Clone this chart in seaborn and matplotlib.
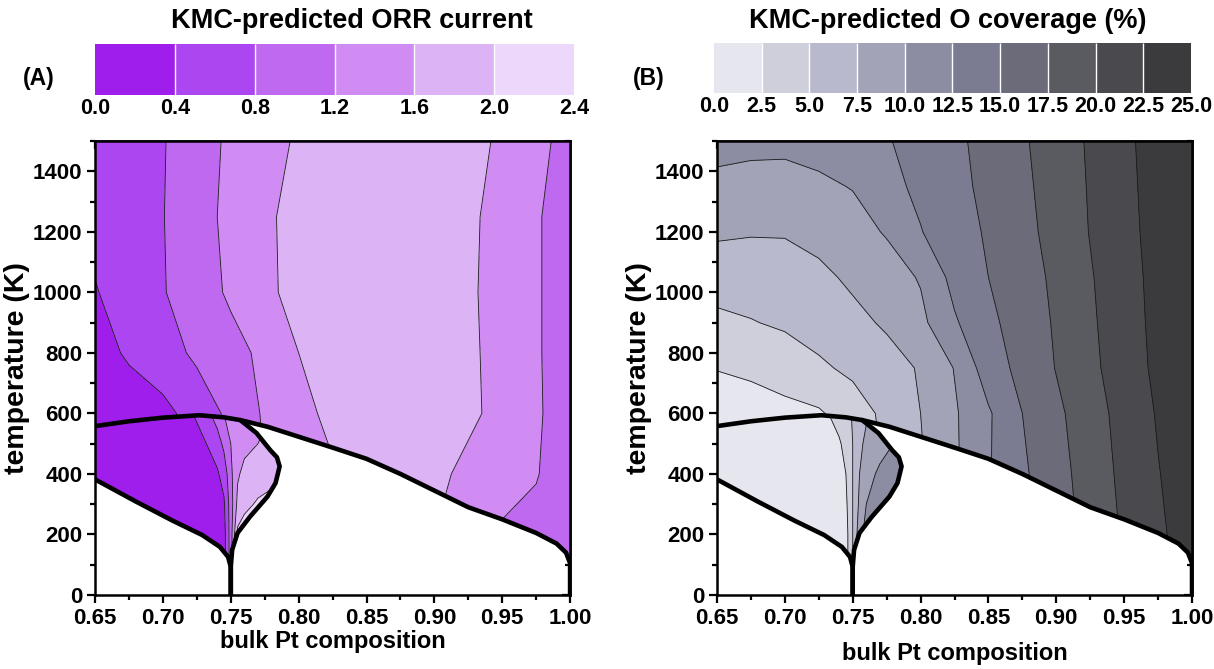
import matplotlib
matplotlib.use("Agg")
import matplotlib.pyplot as plt
from matplotlib.colors import ListedColormap, BoundaryNorm
from matplotlib.patches import Polygon
from matplotlib.ticker import MultipleLocator
import seaborn as sns

# grid of the KMC maps (bulk Pt composition / temperature in K)
comp = [0.65, 0.675, 0.70, 0.725, 0.75, 0.775, 0.80, 0.825, 0.85, 0.875, 0.90, 0.925, 0.95, 0.975, 1.00]
orr_temps = [0, 200, 400, 600, 800, 1000, 1250, 1500]
cov_temps = [0, 200, 400, 600, 750, 900, 1050, 1200, 1350, 1500]

# ORR current above the order-disorder line (rows follow orr_temps)
orr_outer = [
    [0.15, 0.20, 0.30, 0.55, 0.85, 1.20, 1.40, 1.55, 1.75, 1.85, 1.60, 1.40, 1.15, 1.10, 0.95],
    [0.15, 0.20, 0.30, 0.55, 0.85, 1.20, 1.40, 1.55, 1.75, 1.85, 1.60, 1.40, 1.15, 1.10, 0.95],
    [0.15, 0.20, 0.30, 0.55, 0.85, 1.20, 1.40, 1.55, 1.75, 1.85, 1.70, 1.50, 1.35, 1.22, 1.00],
    [0.15, 0.20, 0.30, 0.55, 0.90, 1.25, 1.45, 1.72, 1.88, 1.90, 1.85, 1.68, 1.48, 1.25, 1.00],
    [0.25, 0.45, 0.62, 0.88, 1.05, 1.30, 1.60, 1.82, 1.88, 1.88, 1.85, 1.68, 1.45, 1.24, 1.00],
    [0.38, 0.55, 0.78, 0.98, 1.27, 1.50, 1.75, 1.85, 1.88, 1.88, 1.85, 1.66, 1.45, 1.24, 1.00],
    [0.50, 0.62, 0.79, 1.02, 1.32, 1.52, 1.75, 1.85, 1.85, 1.85, 1.85, 1.68, 1.45, 1.24, 1.00],
    [0.55, 0.65, 0.78, 1.00, 1.28, 1.45, 1.65, 1.80, 1.85, 1.85, 1.82, 1.70, 1.55, 1.32, 1.05],
]

# O coverage (%) above the order-disorder line (rows follow cov_temps)
cov_outer = [
    [0.5, 0.8, 1.2, 1.8, 3.5, 5.2, 7.2, 9.6, 12.3, 14.6, 16.3, 18.3, 20.3, 22.1, 23.6],
    [0.5, 0.8, 1.2, 1.8, 3.5, 5.2, 7.2, 9.6, 12.3, 14.6, 16.3, 18.3, 20.3, 22.1, 23.6],
    [0.5, 0.8, 1.2, 1.8, 3.5, 5.2, 7.2, 9.6, 12.3, 14.6, 16.6, 18.6, 20.6, 22.4, 23.8],
    [1.0, 1.3, 1.7, 2.2, 3.8, 5.6, 7.5, 9.7, 12.2, 15.0, 17.0, 18.9, 20.9, 22.7, 24.0],
    [2.6, 3.0, 3.8, 4.6, 5.5, 6.6, 7.7, 10.1, 13.8, 15.7, 17.6, 19.4, 21.3, 23.0, 24.3],
    [4.5, 4.9, 5.3, 6.0, 6.9, 7.8, 9.4, 12.2, 14.5, 16.0, 17.8, 19.6, 21.5, 23.1, 24.4],
    [6.0, 6.0, 6.3, 7.0, 7.9, 8.9, 10.2, 13.3, 15.0, 16.4, 18.0, 19.8, 21.6, 23.2, 24.5],
    [7.9, 7.7, 7.7, 8.2, 9.1, 10.2, 12.4, 13.9, 15.3, 16.8, 18.3, 20.1, 21.8, 23.3, 24.6],
    [9.7, 9.6, 9.7, 9.6, 10.1, 11.8, 13.0, 14.3, 15.6, 17.0, 18.5, 20.2, 21.9, 23.4, 24.8],
    [10.4, 10.3, 10.2, 10.8, 11.6, 12.3, 13.5, 14.5, 15.8, 17.2, 18.7, 20.3, 22.0, 23.5, 25.0],
]

# values inside the ordered lobe
lobe_comp = [0.65, 0.70, 0.72, 0.73, 0.74, 0.745, 0.75, 0.755, 0.76, 0.77, 0.78, 0.79]
lobe_temps = [0, 200, 300, 400, 500, 600]
orr_lobe = [
    [0.2, 0.2, 0.2, 0.2, 0.2, 0.25, 1.0, 2.1, 2.2, 2.2, 2.2, 2.2],
    [0.2, 0.2, 0.2, 0.2, 0.2, 0.25, 1.0, 2.1, 2.2, 2.2, 2.2, 2.2],
    [0.2, 0.2, 0.2, 0.2, 0.25, 0.35, 1.0, 1.7, 1.9, 2.05, 2.1, 2.1],
    [0.2, 0.2, 0.2, 0.25, 0.35, 0.55, 1.1, 1.55, 1.7, 1.8, 1.9, 1.9],
    [0.2, 0.2, 0.25, 0.35, 0.6, 0.9, 1.2, 1.4, 1.5, 1.6, 1.7, 1.7],
    [0.2, 0.25, 0.35, 0.6, 1.0, 1.2, 1.3, 1.4, 1.45, 1.55, 1.6, 1.6],
]
cov_lobe = [
    [0.3, 0.5, 0.7, 0.9, 1.2, 1.5, 5.0, 9.0, 11.0, 13.0, 13.5, 13.5],
    [0.3, 0.5, 0.7, 0.9, 1.2, 1.5, 5.0, 9.0, 11.0, 13.0, 13.5, 13.5],
    [0.3, 0.5, 0.7, 0.9, 1.2, 2.0, 5.0, 8.0, 10.0, 12.0, 13.0, 13.0],
    [0.3, 0.5, 0.8, 1.1, 1.6, 2.5, 5.0, 7.5, 9.0, 10.5, 11.5, 11.5],
    [0.3, 0.5, 1.0, 1.5, 2.3, 3.0, 5.0, 7.0, 8.0, 9.0, 10.0, 10.0],
    [0.3, 0.6, 1.5, 2.3, 3.2, 4.2, 5.2, 6.5, 7.2, 8.0, 8.5, 8.5],
]

# phase boundaries (thick black lines)
upper_comp = [0.65, 0.675, 0.70, 0.727, 0.745, 0.757, 0.777, 0.80, 0.825, 0.85, 0.875, 0.90, 0.925, 0.95, 0.975, 0.99, 0.997, 1.0, 1.0]
upper_temp = [558, 574, 586, 594, 587, 578, 556, 523, 487, 450, 400, 345, 290, 250, 205, 170, 140, 105, 0]
lower_comp = [0.65, 0.68, 0.707, 0.729, 0.742, 0.748, 0.75, 0.75]
lower_temp = [382, 309, 246, 198, 159, 126, 93, 0]
edge_comp = [0.75, 0.75, 0.751, 0.755, 0.764, 0.777, 0.783, 0.786, 0.784, 0.779, 0.769, 0.757]
edge_temp = [0, 93, 149, 205, 258, 325, 370, 425, 455, 479, 535, 578]

orr_levels = [0.0, 0.4, 0.8, 1.2, 1.6, 2.0, 2.4]
orr_colors = ['#a01eeb', '#ac46f0', '#be69f0', '#d08cf3', '#dcb4f5', '#edd7fa']
cov_levels = [0.0, 2.5, 5.0, 7.5, 10.0, 12.5, 15.0, 17.5, 20.0, 22.5, 25.0]
cov_colors = ['#e6e6ee', '#cecfdb', '#b8b9cc', '#a2a3b7', '#8c8da2',
              '#7b7c91', '#6b6b7a', '#5a5a61', '#4a4a4e', '#3b3b3d']

sns.set_theme(style="ticks")
plt.rcParams['font.family'] = ['Liberation Sans', 'DejaVu Sans']
plt.rcParams['font.weight'] = 'bold'
plt.rcParams['axes.labelweight'] = 'bold'
for key in ['text.color', 'axes.labelcolor', 'xtick.color', 'ytick.color', 'axes.edgecolor']:
    plt.rcParams[key] = 'black'


def region_patches(ax):
    # disordered region above the upper boundary
    outer = list(zip(upper_comp, upper_temp)) + [(comp[-1], orr_temps[-1]), (comp[0], orr_temps[-1])]
    # ordered lobe: lower curve, lobe edge, then back along the upper curve
    back = [(c, t) for c, t in zip(upper_comp, upper_temp) if c < edge_comp[-1]][::-1]
    lobe = list(zip(lower_comp, lower_temp)) + list(zip(edge_comp, edge_temp)) + back
    return (Polygon(outer, closed=True, transform=ax.transData),
            Polygon(lobe, closed=True, transform=ax.transData))


def draw_map(ax, outer_T, outer_vals, lobe_vals, levels, colors):
    cmap = ListedColormap(colors)
    norm = BoundaryNorm(levels, cmap.N)
    patches = region_patches(ax)
    parts = [(comp, outer_T, outer_vals), (lobe_comp, lobe_temps, lobe_vals)]
    filled = None
    for (xs, ys, vals), patch in zip(parts, patches):
        cf = ax.contourf(xs, ys, vals, levels=levels, cmap=cmap, norm=norm)
        cl = ax.contour(xs, ys, vals, levels=levels[1:-1], colors='#1a1a1a', linewidths=0.6)
        cf.set_clip_path(patch)
        cl.set_clip_path(patch)
        if filled is None:
            filled = cf
    for xs, ys in [(upper_comp, upper_temp), (lower_comp, lower_temp), (edge_comp, edge_temp)]:
        ax.plot(xs, ys, color='black', lw=3.3, solid_joinstyle='round', solid_capstyle='round', zorder=5)

    ax.set_xlim(comp[0], comp[-1])
    ax.set_ylim(orr_temps[0], orr_temps[-1])
    ax.xaxis.set_major_locator(MultipleLocator(0.05))
    ax.xaxis.set_minor_locator(MultipleLocator(0.025))
    ax.yaxis.set_major_locator(MultipleLocator(200))
    ax.yaxis.set_minor_locator(MultipleLocator(100))
    ax.xaxis.set_major_formatter('{x:.2f}')
    ax.tick_params(which='both', direction='out', width=1.6, colors='black', labelsize=16, pad=3)
    ax.tick_params(which='major', length=6)
    ax.tick_params(which='minor', length=3.5)
    for s in ax.spines.values():
        s.set_linewidth(1.8)
        s.set_color('black')

    # mirrored inward ticks on top and right
    top = ax.secondary_xaxis('top')
    right = ax.secondary_yaxis('right')
    for sec, axis in [(top, top.xaxis), (right, right.yaxis)]:
        axis.set_major_locator(MultipleLocator(0.05 if sec is top else 200))
        axis.set_minor_locator(MultipleLocator(0.025 if sec is top else 100))
        sec.tick_params(which='both', direction='in', width=1.6, colors='black',
                        labeltop=False, labelright=False)
        sec.tick_params(which='major', length=6)
        sec.tick_params(which='minor', length=3.5)
        for s in sec.spines.values():
            s.set_linewidth(1.8)
    ax.set_ylabel('temperature (K)', fontsize=20.5, labelpad=2)
    return filled


fig = plt.figure(figsize=(12.14, 6.69), dpi=100)
ax_a = fig.add_axes([0.0783, 0.1106, 0.3913, 0.6786])
ax_b = fig.add_axes([0.5906, 0.1106, 0.3913, 0.6786])
cax_a = fig.add_axes([0.0783, 0.858, 0.3946, 0.0762])
cax_b = fig.add_axes([0.5881, 0.861, 0.3929, 0.0747])

cf_a = draw_map(ax_a, orr_temps, orr_outer, orr_lobe, orr_levels, orr_colors)
cf_b = draw_map(ax_b, cov_temps, cov_outer, cov_lobe, cov_levels, cov_colors)
ax_a.set_xlabel('bulk Pt composition', fontsize=17, labelpad=1)
ax_b.set_xlabel('bulk Pt composition', fontsize=17, labelpad=10)

for cax, cf, levels in [(cax_a, cf_a, orr_levels), (cax_b, cf_b, cov_levels)]:
    cb = fig.colorbar(cf, cax=cax, orientation='horizontal', ticks=levels, drawedges=True)
    cb.outline.set_visible(False)
    cb.dividers.set_color('white')
    cb.dividers.set_linewidth(1.0)
    cb.ax.xaxis.set_major_formatter('{x:.1f}')
    cb.ax.tick_params(length=0, labelsize=15.5, pad=2)

fig.text(0.29, 0.968, 'KMC-predicted ORR current', ha='center', va='center', fontsize=19.5, fontweight='bold')
fig.text(0.781, 0.968, 'KMC-predicted O coverage (%)', ha='center', va='center', fontsize=19.5, fontweight='bold')
fig.text(0.032, 0.882, '(A)', ha='center', va='center', fontsize=16.5, fontweight='bold')
fig.text(0.534, 0.882, '(B)', ha='center', va='center', fontsize=16.5, fontweight='bold')

fig.savefig('out.png', dpi=100)
plt.close(fig)
